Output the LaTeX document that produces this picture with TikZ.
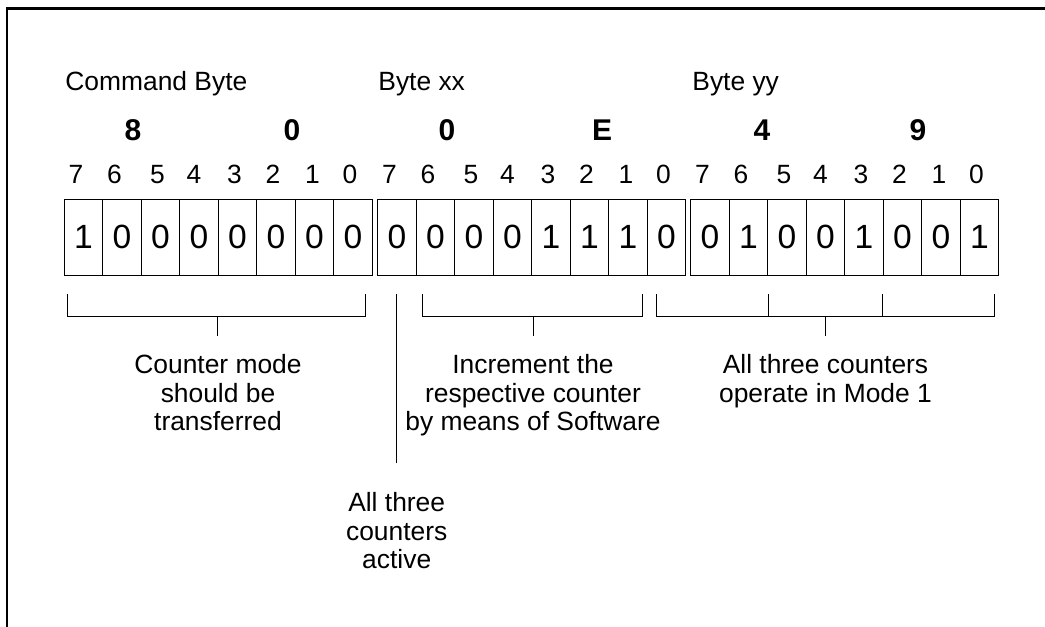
\documentclass[tikz,border=0pt]{standalone}
\usepackage{fontspec}
\setmainfont{Liberation Sans}
\begin{document}
\begin{tikzpicture}[x=0.5pt,y=-0.5pt,
  cell/.style={draw,line width=0.5pt,minimum width=19.25pt,minimum height=37.85pt,inner sep=0pt,font=\fontsize{16.8}{20}\selectfont},
  bitnum/.style={anchor=base,inner sep=0pt,font=\fontsize{13.2}{15}\selectfont},
  hexd/.style={anchor=base,inner sep=0pt,font=\fontsize{15}{18}\selectfont\bfseries},
  head/.style={anchor=base west,inner sep=0pt,font=\fontsize{13.2}{15}\selectfont},
  desc/.style={anchor=north,inner sep=0pt,align=center,font=\fontsize{13.2}{14.3}\selectfont},
  brk/.style={line width=0.5pt}]
\useasboundingbox (0,0) rectangle (1045,627);
\draw[line width=1.1pt] (7,627) -- (7,8.5) -- (1045,8.5);
% headers
\node[head] (h1) at (65,90.7) {Command Byte};
\node[head] (h2) at (378,90.7) {Byte xx};
\node[head] (h3) at (692,90.7) {Byte yy};
% hex digits
\node[hexd] (x1) at (133,140) {8};
\node[hexd] (x2) at (292,140) {0};
\node[hexd] (x3) at (447,140) {0};
\node[hexd] (x4) at (602,140) {E};
\node[hexd] (x5) at (762,140) {4};
\node[hexd] (x6) at (918,140) {9};
% cells and bit numbers
\foreach \xo/\bits/\nm in {64.3/{1,0,0,0,0,0,0,0}/a, 377.7/{0,0,0,0,1,1,1,0}/b, 690.7/{0,1,0,0,1,0,0,1}/c}{
  \foreach \v [count=\i from 0] in \bits {
    \node[cell] (\nm\i) at ({\xo+38.5*\i+19.25},237.15) {\v};
  }
  \foreach \off [count=\i from 0] in {-7.5,-7.5,-3,-5,-3,-3,-2,-3} {
    \pgfmathtruncatemacro{\lbl}{7-\i}
    \node[bitnum] (n\nm\i) at ({\xo+38.5*\i+19.25+\off},183) {\lbl};
  }
}
% brackets
\draw[brk] (67.3,294) -- (67.3,316) -- (365.7,316) -- (365.7,294);
\draw[brk] (217.3,316) -- (217.3,336);
\draw[brk] (422.7,294) -- (422.7,316) -- (642.3,316) -- (642.3,294);
\draw[brk] (533.3,316) -- (533.3,336);
\draw[brk] (656.7,294) -- (656.7,316) -- (994,316) -- (994,294);
\draw[brk] (768,294) -- (768,316);
\draw[brk] (882.3,294) -- (882.3,316);
\draw[brk] (825.5,316) -- (825.5,336);
\draw[brk] (396.7,294) -- (396.7,463);
% descriptions
\node[desc] (d1) at (218,354) {Counter mode\\should be\\transferred};
\node[desc] (d2) at (533,354) {Increment the\\respective counter\\by means of Software};
\node[desc] (d3) at (825.5,354) {All three counters\\operate in Mode 1};
\node[desc] (d4) at (396.7,492) {All three\\counters\\active};
\end{tikzpicture}
\end{document}
